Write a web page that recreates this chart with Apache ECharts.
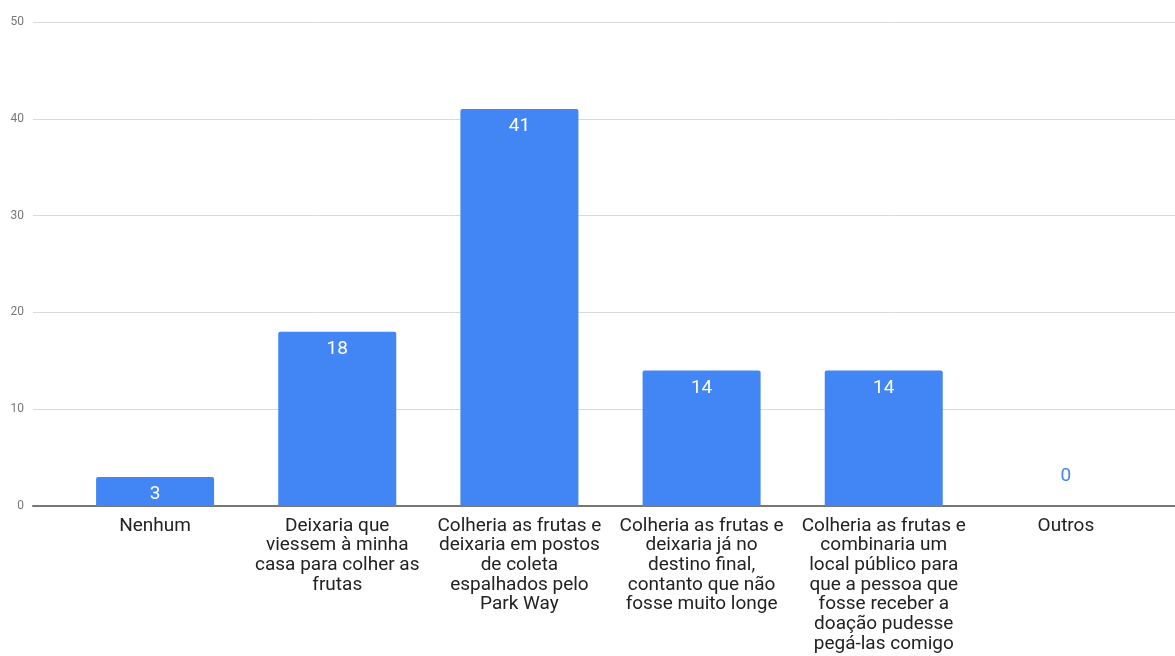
<!DOCTYPE html>
<html>
<head>
<meta charset="utf-8">
<script src="https://cdn.jsdelivr.net/npm/echarts@6/dist/echarts.min.js"></script>
<style>
  html, body { margin: 0; padding: 0; background: #fff; }
  #chart { width: 1175px; height: 656px; }
</style>
</head>
<body>
<div id="chart"></div>
<script>
  // respostas (rótulos já quebrados como no gráfico original)
  var categories = [
    'Nenhum',
    'Deixaria que\nviessem à minha\ncasa para colher as\nfrutas',
    'Colheria as frutas e\ndeixaria em postos\nde coleta\nespalhados pelo\nPark Way',
    'Colheria as frutas e\ndeixaria já no\ndestino final,\ncontanto que não\nfosse muito longe',
    'Colheria as frutas e\ncombinaria um\nlocal público para\nque a pessoa que\nfosse receber a\ndoação pudesse\npegá-las comigo',
    'Outros'
  ];
  var values = [3, 18, 41, 14, 14, 0];
  var yMin = 0, yMax = 50, yStep = 10;

  var myChart = echarts.init(document.getElementById('chart'));

  var barData = values.map(function (v) {
    if (v === 0) {
      return { value: v, label: { position: 'top', color: '#4285f4', distance: 20 } };
    }
    return v;
  });

  var option = {
    backgroundColor: '#fff',
    textStyle: { fontFamily: 'Roboto' },
    grid: [
      { left: 33, right: 0, top: 22, bottom: 150 },   // linhas de grade
      { left: 64, right: 18, top: 22, bottom: 150 }   // barras
    ],
    xAxis: [
      {
        gridIndex: 0, type: 'value', min: 0, max: 1,
        axisLine: { show: true, onZero: false, lineStyle: { color: '#777', width: 2 } },
        axisTick: { show: false }, axisLabel: { show: false }, splitLine: { show: false }
      },
      {
        gridIndex: 1, type: 'category', data: categories,
        axisLine: { show: false }, axisTick: { show: false },
        axisLabel: {
          interval: 0, margin: 10, color: '#222', fontSize: 19, lineHeight: 19.7,
          fontFamily: 'Roboto', verticalAlign: 'top'
        }
      }
    ],
    yAxis: [
      {
        gridIndex: 0, type: 'value', min: yMin, max: yMax, interval: yStep,
        axisLine: { show: false }, axisTick: { show: false },
        axisLabel: { color: '#777', fontSize: 12, margin: 9, fontFamily: 'Roboto' },
        splitLine: { lineStyle: { color: '#dadada', width: 1 } }
      },
      {
        gridIndex: 1, type: 'value', min: yMin, max: yMax, interval: yStep,
        show: false
      }
    ],
    series: [
      {
        type: 'bar',
        xAxisIndex: 1, yAxisIndex: 1,
        data: barData,
        barWidth: 118,
        itemStyle: { color: '#4285f4', borderRadius: [2, 2, 0, 0] },
        label: {
          show: true, position: 'insideTop', distance: 8,
          color: '#fff', fontSize: 19, fontFamily: 'Roboto'
        },
        silent: true
      }
    ]
  };

  option && myChart.setOption(option);
</script>
</body>
</html>
